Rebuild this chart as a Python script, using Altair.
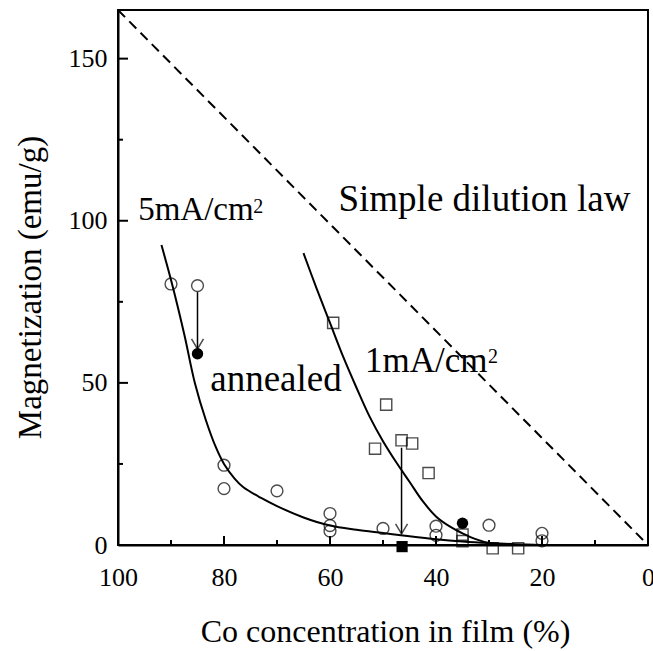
import altair as alt
import pandas as pd

# ---------------- data ----------------
# open circles (5 mA/cm2 films)
oc_x = [90, 85, 80, 80, 70, 60, 60, 60, 50, 40, 40, 30, 20, 20]
oc_y = [80.5, 80, 24.6, 17.4, 16.7, 9.7, 6.0, 4.3, 5.1, 5.8, 3.0, 6.1, 3.6, 1.3]
# filled circles (annealed)
fc_x = [85, 35]
fc_y = [59, 6.7]
# open squares (1 mA/cm2 films)
os_x = [59.4, 49.4, 51.5, 46.5, 44.5, 41.4, 35, 35, 29.3, 24.5]
os_y = [68.5, 43.3, 29.7, 32.3, 31.3, 22.2, 3.2, 1.2, -1.0, -1.0]
# filled square (annealed)
fs_x = [46.4]
fs_y = [-0.5]

# fitted curves
c5_x = [91.8, 89.8, 87.5, 85.5, 83.4, 81.5, 80, 78, 76.4, 73, 70, 65, 60, 55, 50, 45, 40, 35, 30, 25, 20]
c5_y = [92.5, 80.5, 65, 50, 38.4, 30, 25, 20.5, 17.9, 14.5, 12, 8.5, 6, 4.7, 3.7, 2.7, 1.8, 1.1, 0.6, 0.25, 0]
c1_x = [65, 62.5, 60, 57.5, 55, 52.5, 50, 47.5, 45, 42.5, 40, 37.5, 35, 32.5, 30, 27, 25]
c1_y = [90, 79, 68.5, 58, 48.5, 39.5, 32, 25.5, 19.5, 13.5, 8.8, 5.8, 3.6, 1.8, 0.6, 0.1, 0]

# simple dilution law
dl_x = [100, 0]
dl_y = [165, 0]

# arrows (x, start y, tip y)
ar_x = [85, 46.5]
ar_y1 = [78, 30]
ar_tip = [60.5, 3.5]

# annotations
tx_text = ["5mA/cm", "Simple dilution law", "annealed", "1mA/cm"]
tx_x = [96.2, 58.4, 82.6, 53.4]
tx_y = [100.2, 103, 47.6, 53.3]
tx_size = [33, 37, 37, 35]
sup_text = ["2", "2"]
sup_x = [74.5, 30.2]
sup_y = [102.4, 56]

x_major = [100, 80, 60, 40, 20, 0]
x_minor = [90, 70, 50, 30, 10]
y_major = [0, 50, 100, 150]
y_minor = [25, 75, 125]

# ---------------- chart ----------------
W, H = 530, 535
FONT = "Liberation Serif"
xs = alt.Scale(domain=[100, 0], nice=False, zero=False)
ys = alt.Scale(domain=[0, 165], nice=False, zero=False)

x_axis = alt.Axis(values=x_major, ticks=False, tickSize=0, grid=False, labelFont=FONT,
                  labelFontSize=26, labelColor="black", labelPadding=19, labelFlush=False,
                  labelOverlap=False, domainColor="black", domainWidth=2,
                  title="Co concentration in film (%)", titleFont=FONT, titleFontSize=32,
                  titleFontWeight="normal", titleColor="black", titleX=267, titleY=96,
                  titleBaseline="alphabetic", titleAlign="center")
y_axis = alt.Axis(values=y_major, ticks=False, tickSize=0, grid=False, labelFont=FONT,
                  labelFontSize=26, labelColor="black", labelPadding=11, labelFlush=False,
                  labelOverlap=False, domainColor="black", domainWidth=2,
                  title="Magnetization (emu/g)", titleFont=FONT, titleFontSize=33,
                  titleFontWeight="normal", titleColor="black", titleX=-78, titleY=277,
                  titleAngle=270, titleBaseline="alphabetic", titleAlign="center")

pts = pd.DataFrame(
    [{"x": a, "y": b, "kind": "oc"} for a, b in zip(oc_x, oc_y)]
    + [{"x": a, "y": b, "kind": "fc"} for a, b in zip(fc_x, fc_y)]
    + [{"x": a, "y": b, "kind": "os"} for a, b in zip(os_x, os_y)]
    + [{"x": a, "y": b, "kind": "fs"} for a, b in zip(fs_x, fs_y)]
)
curves = pd.DataFrame(
    [{"x": a, "y": b, "s": "5"} for a, b in zip(c5_x, c5_y)]
    + [{"x": a, "y": b, "s": "1"} for a, b in zip(c1_x, c1_y)]
)
dil = pd.DataFrame({"x": dl_x, "y": dl_y})
arr = pd.DataFrame({"x": ar_x, "y1": ar_y1, "tip": ar_tip})
txt = pd.DataFrame({"t": tx_text, "x": tx_x, "y": tx_y, "fs": tx_size})
sup = pd.DataFrame({"t": sup_text, "x": sup_x, "y": sup_y})
xt_minor = pd.DataFrame({"v": x_minor})
xt_major = pd.DataFrame({"v": x_major})
yt_major = pd.DataFrame({"v": y_major})
yt_minor = pd.DataFrame({"v": y_minor})

base_axes = alt.Chart(dil).mark_line(strokeDash=[10, 6], strokeWidth=2, color="black").encode(
    x=alt.X("x:Q", scale=xs, axis=x_axis),
    y=alt.Y("y:Q", scale=ys, axis=y_axis),
)

curve_layer = alt.Chart(curves).mark_line(color="black", strokeWidth=2,
                                          interpolate="catmull-rom").encode(
    x=alt.X("x:Q", scale=xs), y=alt.Y("y:Q", scale=ys), detail="s:N",
    order=alt.Order("x:Q", sort="descending"))

open_c = alt.Chart(pts).transform_filter(alt.datum.kind == "oc").mark_point(
    shape="circle", size=140, filled=False, color="black", strokeWidth=1.4).encode(
    x=alt.X("x:Q", scale=xs), y=alt.Y("y:Q", scale=ys))
fill_c = alt.Chart(pts).transform_filter(alt.datum.kind == "fc").mark_point(
    shape="circle", size=130, filled=True, color="black", opacity=1).encode(
    x=alt.X("x:Q", scale=xs), y=alt.Y("y:Q", scale=ys))
open_s = alt.Chart(pts).transform_filter(alt.datum.kind == "os").mark_point(
    shape="square", size=125, filled=False, color="black", strokeWidth=1.4).encode(
    x=alt.X("x:Q", scale=xs), y=alt.Y("y:Q", scale=ys))
fill_s = alt.Chart(pts).transform_filter(alt.datum.kind == "fs").mark_point(
    shape="square", size=125, filled=True, color="black", opacity=1).encode(
    x=alt.X("x:Q", scale=xs), y=alt.Y("y:Q", scale=ys))

arrow_line = alt.Chart(arr).mark_rule(color="black", strokeWidth=1.5).encode(
    x=alt.X("x:Q", scale=xs), y=alt.Y("y1:Q", scale=ys), y2="tip:Q")
arrow_head = alt.Chart(arr).transform_calculate(c="datum.tip + 1.5").mark_point(
    shape="M-1.2,-1L0,1L1.2,-1", size=100, filled=False, color="black",
    strokeWidth=1.5).encode(x=alt.X("x:Q", scale=xs), y=alt.Y("c:Q", scale=ys))

text_layer = alt.Chart(txt).mark_text(align="left", baseline="alphabetic", font=FONT,
                                      color="black").encode(
    x=alt.X("x:Q", scale=xs), y=alt.Y("y:Q", scale=ys), text="t:N",
    size=alt.Size("fs:Q", scale=None, legend=None))
sup_layer = alt.Chart(sup).mark_text(align="left", baseline="alphabetic", font=FONT,
                                     fontSize=20, color="black").encode(
    x=alt.X("x:Q", scale=xs), y=alt.Y("y:Q", scale=ys), text="t:N")

xtick_major = alt.Chart(xt_major).mark_rule(color="black", strokeWidth=2).encode(
    x=alt.X("v:Q", scale=xs), y=alt.value(H), y2=alt.value(H - 9))
xtick_minor = alt.Chart(xt_minor).mark_rule(color="black", strokeWidth=2).encode(
    x=alt.X("v:Q", scale=xs), y=alt.value(H), y2=alt.value(H - 5))
ytick_major = alt.Chart(yt_major).mark_rule(color="black", strokeWidth=2).encode(
    y=alt.Y("v:Q", scale=ys), x=alt.value(0), x2=alt.value(10))
ytick_minor = alt.Chart(yt_minor).mark_rule(color="black", strokeWidth=2).encode(
    y=alt.Y("v:Q", scale=ys), x=alt.value(0), x2=alt.value(5))

chart = alt.layer(
    base_axes, curve_layer, xtick_major, xtick_minor, ytick_major, ytick_minor,
    open_c, fill_c, open_s, fill_s, arrow_line, arrow_head, text_layer, sup_layer
).properties(
    width=W, height=H,
    autosize=alt.AutoSizeParams(type="none"),
    padding={"left": 118, "top": 10, "right": 5, "bottom": 106},
    background="white",
).configure_view(stroke="black", strokeWidth=2)

chart.save("out.html", embed_options={"renderer": "svg", "actions": False})
